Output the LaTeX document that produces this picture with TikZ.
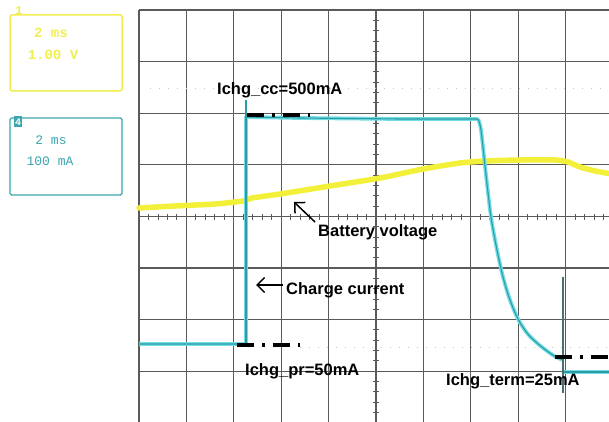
\documentclass[tikz,border=0pt]{standalone}
\usepackage{fontspec}
\setmainfont{Liberation Sans}
\newfontfamily\scopemono{Liberation Mono}
\usetikzlibrary{arrows.meta}
\definecolor{gridc}{HTML}{5A5A5A}
\definecolor{ytrace}{HTML}{F2F038}
\definecolor{ybox}{HTML}{F0EE50}
\definecolor{cglow}{HTML}{70DDE6}
\definecolor{ccore}{HTML}{2A9CA2}
\definecolor{cbox}{HTML}{3AA6AE}
\tikzset{
  gridline/.style={draw=gridc, line width=1.1pt},
  tickline/.style={draw=gridc, line width=0.9pt},
  cursor/.style={draw=gray!45, line width=0.9pt, dash pattern=on 1pt off 8pt},
  level/.style={draw=black, line width=3.2pt, dash pattern=on 17pt off 8pt on 2.5pt off 8pt},
  lbl/.style={font=\bfseries\fontsize{16.5}{16.5}\selectfont, inner sep=0pt, anchor=base west},
  pointer/.style={draw=black, line width=1.5pt, -{Straight Barb[length=7.5pt,width=15pt]}},
  monotxt/.style={font=\scopemono\fontsize{13}{13}\selectfont, inner sep=0pt},
}
\begin{document}
\begin{tikzpicture}[x=1pt,y=-1pt]
\useasboundingbox (0,0) rectangle (609,422);
\begin{scope}
\clip (0,0) rectangle (609,422);
% grid
\foreach \k in {0,...,10} \draw[gridline] (139+47.4*\k,10) -- (139+47.4*\k,423);
\foreach \k in {0,...,8} \draw[gridline] (139,10+51.6*\k) -- (620,10+51.6*\k);
% ticks
\foreach \k in {1,...,50} \draw[tickline] (139+9.48*\k,214) -- (139+9.48*\k,220);
\foreach \k in {1,...,40} \draw[tickline] (373,10+10.32*\k) -- (379,10+10.32*\k);
% cursors
\draw[cursor] (150,88) -- (609,88);
\draw[cursor] (300,347) -- (609,347);
% yellow trace (battery voltage)
\draw[ytrace, line width=5.5pt, line cap=round, line join=round]
  plot[smooth, tension=0.4] coordinates {(139,208) (175,206) (215,204) (243,201) (252,198) (280,194) (330,186) (380,178) (423,169) (460,163) (485,161) (520,160) (555,160) (568,162) (580,167) (595,171) (612,174)};
% cyan trace (charge current)
\foreach \w/\c in {3.8pt/cglow, 1.1pt/ccore} {
  \draw[\c, line width=\w, line join=round]
    (139,344) -- (246,344) -- (246,117) -- (300,118) -- (400,119) -- (478,119);
  \draw[\c, line width=\w, line join=round]
    plot[smooth, tension=0.5] coordinates {(478,119) (481,130) (486,175) (491,217) (497,250) (503,277) (510,300) (518,319) (527,333) (537,343) (547,351) (556,357) (563,360)};
  \draw[\c, line width=\w] (564,372) -- (612,372);
}
\draw[ccore, line width=1.2pt] (246,100) -- (246,344);
\draw[gridc!70!ccore, line width=1.3pt] (563,277) -- (563,393);
% level markers
\draw[level] (247,115) -- (312,115);
\draw[level] (237,345) -- (302,345);
\draw[level] (555,357) -- (615,357);
\end{scope}
% left boxes
\draw[ybox, line width=1.5pt, rounded corners=1.5pt] (10,15) rectangle (122,91);
\node[text=ybox, font=\scopemono\fontsize{12}{12}\selectfont\bfseries, inner sep=0pt] (ch1) at (19,11) {1};
\node[text=ybox, font=\scopemono\fontsize{14}{14}\selectfont\bfseries, inner sep=0pt] (y1) at (51,33) {2 ms};
\node[text=ybox, font=\scopemono\fontsize{14}{14}\selectfont\bfseries, inner sep=0pt] (y2) at (53,55) {1.00 V};
\draw[cbox, line width=1.4pt, rounded corners=1.5pt] (10,118) rectangle (122,195);
\node[fill=cbox, text=white, font=\scopemono\fontsize{10}{10}\selectfont\bfseries, inner sep=0.8pt, minimum width=7pt, minimum height=11pt] (ch4) at (18,122) {4};
\node[monotxt, text=cbox] (c1) at (51,140) {2 ms};
\node[monotxt, text=cbox] (c2) at (50,161) {100 mA};
% labels
\node[lbl] (lcc) at (217,95) {Ichg\_cc=500mA};
\node[lbl] (lbat) at (318,236) {Battery voltage};
\node[lbl] (lchg) at (286,294) {Charge current};
\node[lbl] (lpr) at (245,375) {Ichg\_pr=50mA};
\node[lbl] (lterm) at (446,385) {Ichg\_term=25mA};
% pointers
\coordinate (batTip) at (294,202);
\coordinate (batTail) at (315,222);
\coordinate (chgTip) at (256,285);
\coordinate (chgTail) at (283,285);
\draw[pointer] (batTail) -- (batTip);
\draw[pointer] (chgTail) -- (chgTip);
\end{tikzpicture}
\end{document}
